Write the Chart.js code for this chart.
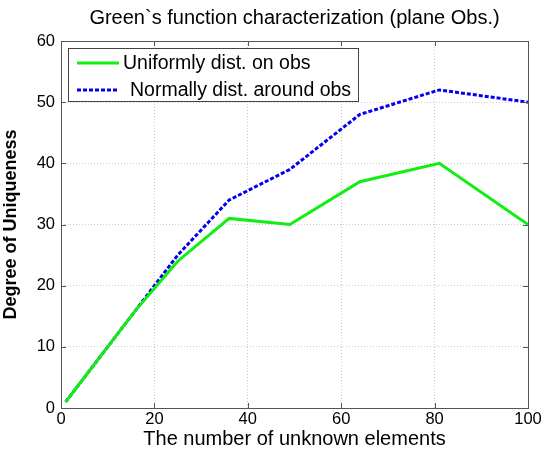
<!DOCTYPE html>
<html>
<head>
<meta charset="utf-8">
<script src="https://cdn.jsdelivr.net/npm/chart.js@4.4.0/dist/chart.umd.min.js"></script>
<style>
  html, body { margin: 0; padding: 0; background: #fff; }
</style>
</head>
<body>
<canvas id="greenChart" width="544" height="455"></canvas>
<script>
// number of unknown elements (n x n grids)
var unknowns = [1, 4, 9, 16, 25, 36, 49, 64, 81, 100];
var uniformVals = [1, 4, 9, 16, 24, 31, 30, 37, 40, 30];
var normalVals = [1, 4, 9, 16, 25, 34, 39, 48, 52, 50];
var seriesNames = ['Uniformly dist. on obs', 'Normally dist. around obs'];
var xTicks = [0, 20, 40, 60, 80, 100];
var yTicks = [0, 10, 20, 30, 40, 50, 60];

var FONT = '"Liberation Sans", Arial, sans-serif';

function toPoints(xs, ys) {
  var pts = [];
  for (var i = 0; i < xs.length; i++) {
    pts.push({ x: xs[i], y: ys[i] });
  }
  return pts;
}

// matlab style box with inward ticks
var frame = {
  id: 'frame',
  afterDatasetsDraw: function(chart) {
    var ctx = chart.ctx, a = chart.chartArea;
    var xs = chart.scales.x, ys = chart.scales.y;
    ctx.save();
    ctx.strokeStyle = '#555';
    ctx.lineWidth = 1;
    ctx.strokeRect(Math.round(a.left) + 0.5, Math.round(a.top) + 0.5,
      Math.round(a.right - a.left), Math.round(a.bottom - a.top));
    ctx.beginPath();
    xTicks.forEach(function(v) {
      var px = Math.round(xs.getPixelForValue(v)) + 0.5;
      ctx.moveTo(px, a.bottom); ctx.lineTo(px, a.bottom - 5);
      ctx.moveTo(px, a.top); ctx.lineTo(px, a.top + 5);
    });
    yTicks.forEach(function(v) {
      var py = Math.round(ys.getPixelForValue(v)) + 0.5;
      ctx.moveTo(a.left, py); ctx.lineTo(a.left + 5, py);
      ctx.moveTo(a.right, py); ctx.lineTo(a.right - 5, py);
    });
    ctx.stroke();
    ctx.restore();
  }
};

var boxLegend = {
  id: 'boxLegend',
  afterDraw: function(chart) {
    var ctx = chart.ctx, a = chart.chartArea;
    var x0 = Math.round(a.left) + 7, y0 = Math.round(a.top) + 7, w = 290, h = 53;
    ctx.save();
    ctx.fillStyle = '#fff';
    ctx.fillRect(x0, y0, w, h);
    ctx.strokeStyle = '#444';
    ctx.lineWidth = 1;
    ctx.strokeRect(x0 + 0.5, y0 + 0.5, w, h);
    chart.data.datasets.forEach(function(ds, i) {
      var y = y0 + 15 + i * 27;
      ctx.beginPath();
      ctx.setLineDash(ds.borderDash || []);
      ctx.strokeStyle = ds.borderColor;
      ctx.lineWidth = ds.borderWidth;
      ctx.moveTo(x0 + 9, y);
      ctx.lineTo(x0 + 51, y);
      ctx.stroke();
      ctx.setLineDash([]);
      ctx.fillStyle = '#000';
      ctx.font = '19.5px ' + FONT;
      ctx.textBaseline = 'middle';
      ctx.fillText(ds.label, x0 + 55 + (i ? 7 : 0), y + 1);
    });
    ctx.restore();
  }
};

var ctx = document.getElementById('greenChart').getContext('2d');
var myChart = new Chart(ctx, {
  type: 'line',
  data: {
    datasets: [{
      label: seriesNames[0],
      data: toPoints(unknowns, uniformVals),
      borderColor: '#11ee11',
      borderWidth: 3,
      pointRadius: 0,
      fill: false,
      tension: 0
    }, {
      label: seriesNames[1],
      data: toPoints(unknowns, normalVals),
      borderColor: '#0000ee',
      borderWidth: 3,
      borderDash: [4, 2],
      pointRadius: 0,
      fill: false,
      tension: 0
    }]
  },
  options: {
    responsive: false,
    animation: false,
    layout: { padding: { top: 0, right: 16, bottom: 0, left: 0 } },
    plugins: {
      legend: { display: false },
      tooltip: { enabled: false },
      title: {
        display: true,
        fullSize: false,
        text: 'Green`s function characterization (plane Obs.)',
        color: '#000',
        font: { family: FONT, size: 20, weight: 'normal', lineHeight: 1.2 },
        padding: { top: 6, bottom: 11 }
      }
    },
    scales: {
      x: {
        type: 'linear',
        min: 0,
        max: 100,
        afterBuildTicks: function(scale) {
          scale.ticks = xTicks.map(function(v) { return { value: v }; });
        },
        afterFit: function(scale) { scale.height = 47; },
        grid: { color: '#ccc', drawTicks: false },
        border: { display: false, dash: [1, 2] },
        ticks: { color: '#000', padding: 2, maxRotation: 0, font: { family: FONT, size: 16.5 } },
        title: {
          display: true,
          text: 'The number of unknown elements',
          color: '#000',
          padding: { top: 0, bottom: 4 },
          font: { family: FONT, size: 20 }
        }
      },
      y: {
        min: 0,
        max: 60,
        afterBuildTicks: function(scale) {
          scale.ticks = yTicks.map(function(v) { return { value: v }; });
        },
        afterFit: function(scale) { scale.width = 61; },
        grid: { color: '#ccc', drawTicks: false },
        border: { display: false, dash: [1, 2] },
        ticks: { color: '#000', padding: 6, font: { family: FONT, size: 16.5 } },
        title: {
          display: true,
          text: 'Degree of Uniqueness',
          color: '#000',
          padding: 0,
          font: { family: FONT, size: 18, weight: 'bold' }
        }
      }
    }
  },
  plugins: [frame, boxLegend]
});
</script>
</body>
</html>
